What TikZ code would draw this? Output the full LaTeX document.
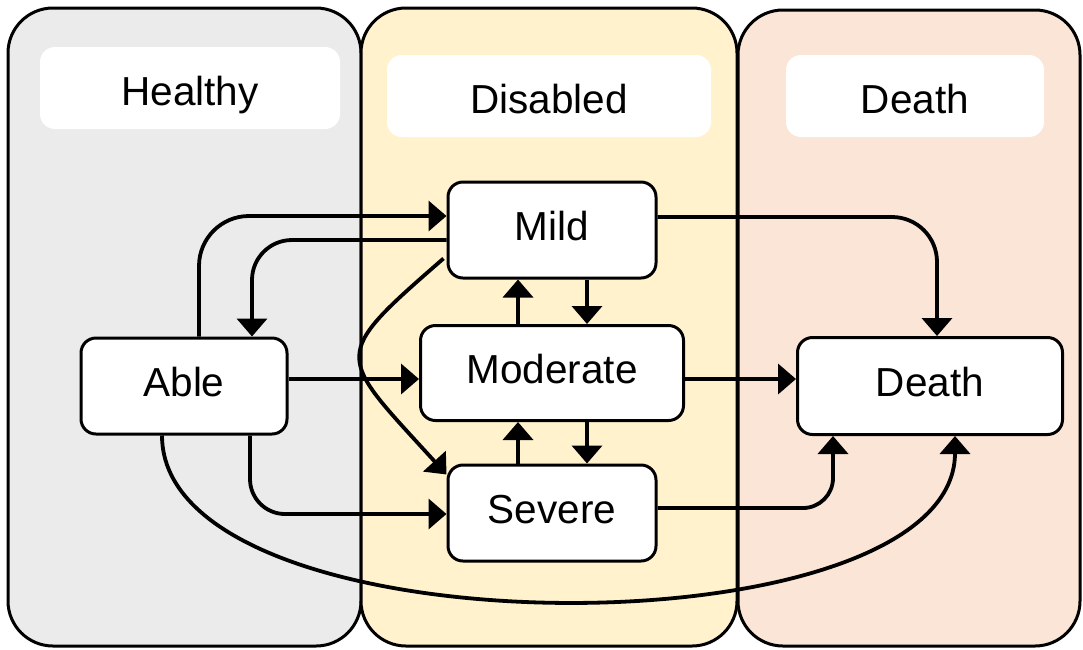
\documentclass[tikz,border=0pt]{standalone}
\usepackage{fontspec}
\setmainfont{Liberation Sans}
\usepackage{xcolor}
\usetikzlibrary{calc}
\usetikzlibrary{arrows.meta}

\definecolor{healthygray}{HTML}{EBEBEB}
\definecolor{disabledyellow}{HTML}{FFF2CC}
\definecolor{deathpink}{HTML}{FBE5D6}

\tikzstyle{panel} = [draw=black, line width=3pt, rounded corners=45pt]
\tikzstyle{header} = [fill=white, rounded corners=15pt, minimum height=82pt,
inner sep=0pt, text height=35pt, text depth=0pt]
\tikzstyle{state} = [draw=black, fill=white, line width=3pt, rounded corners=15pt,
minimum height=96pt, inner sep=0pt, text height=29pt, text depth=8pt]
\tikzstyle{arr} = [line width=3.8pt, -{Triangle[length=18pt, width=30pt]}]

\begin{document}
\begin{tikzpicture}[x=1pt, y=-1pt, font=\fontsize{40.5}{48}\selectfont]
    \useasboundingbox (0,0) rectangle (1083,649);
    % three columns
    \draw[panel, fill=healthygray] (8,8) rectangle (361,646);
    \draw[panel, fill=disabledyellow] (361,8) rectangle (737,646);
    \draw[panel, fill=deathpink] (738,10) rectangle (1080,646);

    \node[header, minimum width=300pt] (hhealthy) at (190,88) {Healthy};
    \node[header, minimum width=324pt] (hdisabled) at (549,96) {Disabled};
    \node[header, minimum width=258pt] (hdeath) at (915,96) {Death};

    % states
    \node[state, minimum width=206pt] (able) at (184,386) {Able};
    \node[state, minimum width=208pt] (mild) at (552,230) {Mild};
    \node[state, minimum width=263pt, minimum height=95pt] (moderate) at (552,373) {Moderate};
    \node[state, minimum width=208pt] (severe) at (552,513) {Severe};
    \node[state, minimum width=265pt, minimum height=97pt] (death) at (930,386) {Death};

    % transitions
    \draw[arr, rounded corners=50pt] ($(able.north)+(15,0)$) |- ($(mild.west)+(0,-14)$);
    \draw[arr, rounded corners=40pt] ($(mild.west)+(0,10)$) -| ($(able.north)+(68,0)$);
    \draw[arr] ($(mild.south west)+(-3,-21)$) .. controls +(-115,100) and +(-110,-121) .. ($(severe.north west)+(0,11)$);
    \draw[arr] ($(able.east)+(0,-7)$) -- ($(moderate.west)+(0,6)$);
    \draw[arr, rounded corners=35pt] ($(able.south)+(66,0)$) |- ($(severe.west)+(0,1)$);
    \draw[arr] ($(able.south)+(-22,0)$) .. controls +(0,220) and +(0,220) .. ($(death.south)+(25,0)$);

    \draw[arr] ($(mild.south)+(35,0)$) -- ($(moderate.north)+(35,0)$);
    \draw[arr] ($(moderate.north)+(-34,0)$) -- ($(mild.south)+(-34,0)$);
    \draw[arr] ($(moderate.south)+(35,0)$) -- ($(severe.north)+(35,0)$);
    \draw[arr] ($(severe.north)+(-34,0)$) -- ($(moderate.south)+(-34,0)$);

    \draw[arr, rounded corners=45pt] ($(mild.east)+(0,-13)$) -| ($(death.north)+(7,0)$);
    \draw[arr] ($(moderate.east)+(0,6)$) -- ($(death.west)+(0,-7)$);
    \draw[arr, rounded corners=30pt] ($(severe.east)+(0,-5)$) -| ($(death.south)+(-97,0)$);
\end{tikzpicture}
\end{document}
